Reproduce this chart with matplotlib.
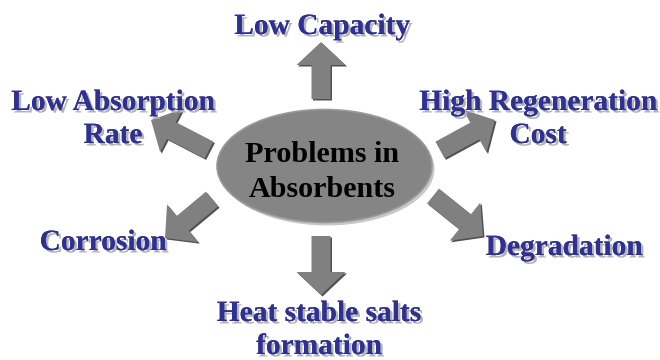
import matplotlib.pyplot as plt
from matplotlib.patches import Ellipse, FancyArrow
import matplotlib.patheffects as pe

# hub label and the problems around it
center_lines = ["Problems in", "Absorbents"]
problems = [
    ["Low Capacity"],
    ["High Regeneration", "Cost"],
    ["Degradation"],
    ["Heat stable salts", "formation"],
    ["Corrosion"],
    ["Low Absorption", "Rate"],
]

# layout in pixel units (y grows downward)
label_x = [322, 538, 564, 319, 103, 113]
label_y = [34, 110, 255, 321, 250, 110]
line_step = 33
arrows = [  # tail -> tip
    ((321, 99), (321, 42)),
    ((440, 150), (495, 120)),
    ((433, 196), (483, 236)),
    ((321, 236), (321, 295)),
    ((212, 199), (165, 238)),
    ((209, 150), (151, 120)),
]

fig = plt.figure(figsize=(6.6, 3.6), dpi=100)
ax = fig.add_axes([0, 0, 1, 1])
ax.set_xlim(0, 660)
ax.set_ylim(360, 0)
ax.axis("off")

font = ["Liberation Serif", "DejaVu Serif"]
text_shadow = [pe.withSimplePatchShadow(offset=(1.8, -1.8), shadow_rgbFace="#b4b4b4", alpha=1.0),
               pe.Normal()]

# center ellipse with a soft shadow
ax.add_patch(Ellipse((327, 169), 215, 113, facecolor="#c8c8c8", edgecolor="none", zorder=1))
ax.add_patch(Ellipse((324.5, 166), 215, 113, facecolor="#858585", edgecolor="#9a9a9a",
                     linewidth=1.2, zorder=2))
for k, line in enumerate(center_lines):
    ax.text(322, 162 + k * 35, line, ha="center", va="baseline", fontsize=21.7,
            fontweight="bold", color="black", family=font, zorder=3)

# arrows
for (x0, y0), (x1, y1) in arrows:
    dx, dy = x1 - x0, y1 - y0
    ax.add_patch(FancyArrow(x0 + 1.5, y0 + 1.5, dx, dy, width=19, head_width=49, head_length=23,
                            length_includes_head=True, facecolor="#505050", edgecolor="none",
                            zorder=1))
    ax.add_patch(FancyArrow(x0, y0, dx, dy, width=19, head_width=49, head_length=23,
                            length_includes_head=True, facecolor="#808080", edgecolor="none",
                            zorder=2))

# problem labels
for lines, x, y in zip(problems, label_x, label_y):
    for k, line in enumerate(lines):
        ax.text(x, y + k * line_step, line, ha="center", va="baseline", fontsize=21.2,
                fontweight="bold", color="#2e3192", family=font, zorder=3,
                path_effects=text_shadow)

fig.savefig("out.png", dpi=100, facecolor="white")
